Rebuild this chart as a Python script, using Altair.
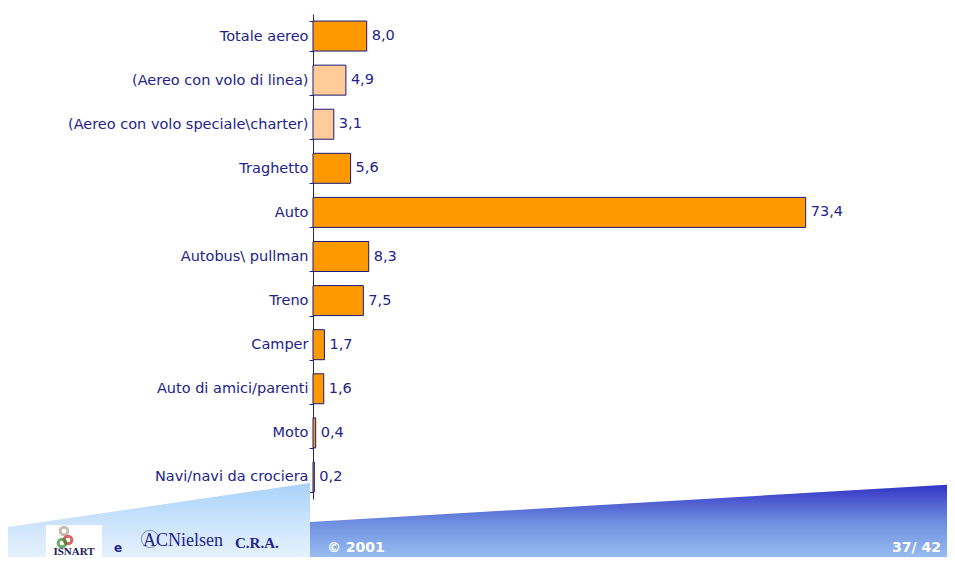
import altair as alt
import pandas as pd

categories = [
    "Totale aereo",
    "(Aereo con volo di linea)",
    "(Aereo con volo speciale\\charter)",
    "Traghetto",
    "Auto",
    "Autobus\\ pullman",
    "Treno",
    "Camper",
    "Auto di amici/parenti",
    "Moto",
    "Navi/navi da crociera",
]
values = [8.0, 4.9, 3.1, 5.6, 73.4, 8.3, 7.5, 1.7, 1.6, 0.4, 0.2]
kinds = ["main", "sub", "sub", "main", "main", "main", "main", "main", "main", "main", "main"]

footer_texts = ["e", "ACNielsen", "C.R.A.", "© 2001", "37/ 42", "ISNART"]

NAVY = "#23238a"
FONT = "DejaVu Sans"

df = pd.DataFrame({
    "cat": categories,
    "val": values,
    "kind": kinds,
    "label": [f"{v:.1f}".replace(".", ",") for v in values],
})

W, H = 537, 485
PADL, PADT = 305, 6
ox, oy = PADL + 8, PADT + 8  # page position of plot origin
TOTW, TOTH = 939, 549

y_scale = alt.Scale(paddingInner=0.32, paddingOuter=0.16)
y_enc = alt.Y(
    "cat:N", sort=categories, title=None, scale=y_scale,
    axis=alt.Axis(
        domainColor=NAVY, tickColor=NAVY, tickSize=4, tickBand="extent",
        labelColor=NAVY, labelFont=FONT, labelFontSize=14.5, labelPadding=1,
        labelLimit=400, grid=False,
    ),
)
x_enc = alt.X("val:Q", scale=alt.Scale(domain=[0, 80]), axis=None)

bars = alt.Chart(df).mark_bar(stroke="#1a1a7a", strokeWidth=1).encode(
    y=y_enc, x=x_enc,
    color=alt.Color("kind:N", scale=alt.Scale(domain=["main", "sub"], range=["#ff9900", "#ffcc99"]), legend=None),
)
labels = alt.Chart(df).mark_text(align="left", baseline="middle", dx=5, font=FONT, fontSize=14.5, color=NAVY).encode(
    y=alt.Y("cat:N", sort=categories, scale=y_scale),
    x=x_enc, text="label:N",
)
main = alt.layer(bars, labels)

# footer band (decoration), pixel positions relative to plot origin
def P(px, py):
    return px - ox, py - oy

BOT = 570
left_band = pd.DataFrame([
    {"x": P(8, 0)[0], "yt": P(0, 527)[1], "yb": P(0, BOT)[1]},
    {"x": P(310, 0)[0], "yt": P(0, 483)[1], "yb": P(0, BOT)[1]},
])
right_band = pd.DataFrame([
    {"x": P(310, 0)[0], "yt": P(0, 522)[1], "yb": P(0, BOT)[1]},
    {"x": P(960, 0)[0], "yt": P(0, 484)[1], "yb": P(0, BOT)[1]},
])

def band(d, stops):
    return alt.Chart(d).mark_area(
        color=alt.Gradient(gradient="linear", stops=[alt.GradientStop(color=c, offset=o) for o, c in stops],
                           x1=0, x2=0, y1=0, y2=1)
    ).encode(
        x=alt.X("x:Q", scale=None), y=alt.Y("yt:Q", scale=None), y2="yb:Q"
    )

lb = band(left_band, [(0, "#a9d2fa"), (0.6, "#d6e9fc"), (1, "#eef6fe")])
rb = band(right_band, [(0, "#3232c4"), (0.45, "#6f8fe0"), (1, "#a6cdf7")])

logo_box = alt.Chart(pd.DataFrame({"x": [P(46, 0)[0]], "x2": [P(102, 0)[0]], "y": [P(0, 525)[1]], "y2": [P(0, BOT)[1]]})).mark_rect(
    color="white").encode(x=alt.X("x:Q", scale=None), x2="x2:Q", y=alt.Y("y:Q", scale=None), y2="y2:Q")

logo_sym = alt.Chart(pd.DataFrame({
    "x": [P(64, 0)[0], P(68, 0)[0], P(62, 0)[0]],
    "y": [P(0, 531)[1], P(0, 540)[1], P(0, 543)[1]],
    "c": ["#b0a090", "#cc2222", "#2a8a2a"],
})).mark_point(filled=False, size=60, strokeWidth=3).encode(
    x=alt.X("x:Q", scale=None), y=alt.Y("y:Q", scale=None), color=alt.Color("c:N", scale=None)
)

def ftext(txt, px, py, size, color, font, weight="normal", align="left"):
    d = pd.DataFrame({"x": [P(px, 0)[0]], "y": [P(0, py)[1]], "t": [txt]})
    return alt.Chart(d).mark_text(align=align, baseline="alphabetic", fontSize=size, color=color,
                                  font=font, fontWeight=weight).encode(
        x=alt.X("x:Q", scale=None), y=alt.Y("y:Q", scale=None), text="t:N")

globe = alt.Chart(pd.DataFrame({"x": [P(150, 0)[0]], "y": [P(0, 539)[1]]})).mark_point(
    shape="circle", size=300, filled=False, color=NAVY, strokeWidth=0.8, opacity=0.6).encode(
    x=alt.X("x:Q", scale=None), y=alt.Y("y:Q", scale=None))

texts = [
    ftext(footer_texts[5], 74, 555, 11, "#1a1a5a", "Liberation Serif", "bold", "center"),
    ftext(footer_texts[0], 114, 552, 12, NAVY, FONT, "bold"),
    ftext(footer_texts[1], 143, 546, 18, NAVY, "Liberation Serif"),
    ftext(footer_texts[2], 235, 548, 15, NAVY, "Liberation Serif", "bold"),
    ftext(footer_texts[3], 327, 552, 14, "white", FONT, "bold"),
    ftext(footer_texts[4], 892, 552, 14, "white", FONT, "bold"),
]

footer = alt.layer(lb, rb, logo_box, logo_sym, globe, *texts)

chart = alt.layer(footer, main).resolve_scale(x="independent", y="independent", color="independent").properties(
    width=W, height=H,
    padding={"left": PADL, "top": PADT, "right": TOTW - PADL - W, "bottom": TOTH - PADT - H},
    autosize="none",
    background="white",
).configure_view(stroke=None)

chart.save("out.html", embed_options={"renderer": "svg", "actions": False})
